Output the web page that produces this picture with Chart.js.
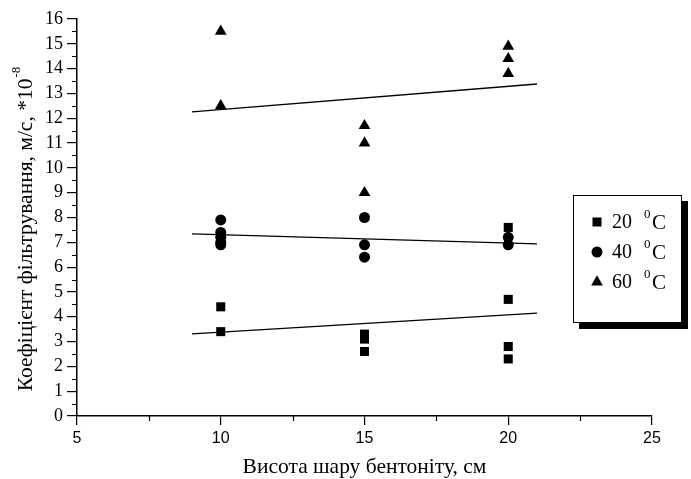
<!DOCTYPE html>
<html>
<head>
<meta charset="utf-8">
<script src="https://cdn.jsdelivr.net/npm/chart.js@4/dist/chart.umd.min.js"></script>
<style>
html,body{margin:0;padding:0;background:#fff;}
#wrap{width:691px;height:479px;position:relative;}
</style>
</head>
<body>
<div id="wrap"><canvas id="c" width="691" height="479"></canvas></div>
<script>
// Data
const heights = [10, 15, 20];
const x20 = [10, 10, 15, 15, 15, 20, 20, 20, 20];
const y20 = [4.4, 3.4, 3.3, 3.1, 2.6, 7.6, 4.7, 2.8, 2.3];
const x40 = [10, 10, 10, 10, 10, 15, 15, 15, 20, 20];
const y40 = [7.9, 7.4, 7.2, 7.0, 6.9, 8.0, 6.9, 6.4, 7.2, 6.9];
const x60 = [10, 10, 15, 15, 15, 20, 20, 20];
const y60 = [15.5, 12.5, 11.7, 11.0, 9.0, 14.9, 14.4, 13.8];
const fitX = [9, 21];
const fit20 = [3.31, 4.15];
const fit40 = [7.34, 6.94];
const fit60 = [12.26, 13.38];
const seriesLabels = ['20', '40', '60'];
const xTitle = 'Висота шару бентоніту, см';
const yTitle = 'Коефіцієнт фільтрування, м/с, *10';
const ySup = '-8';

const pts = (xs, ys) => xs.map((x, i) => ({x: x, y: ys[i]}));

const serif = "'Liberation Serif', 'Times New Roman', serif";
const sans = "'Liberation Sans', Arial, sans-serif";

const titlesPlugin = {
  id: 'titles',
  afterDraw(chart) {
    const ctx = chart.ctx;
    const ca = chart.chartArea;
    ctx.save();
    ctx.fillStyle = '#000';
    // x title
    ctx.font = '21.5px ' + serif;
    ctx.textAlign = 'center';
    ctx.textBaseline = 'middle';
    ctx.fillText(xTitle, (ca.left + ca.right) / 2, 467);
    // y title rotated with superscript
    ctx.translate(25, 229);
    ctx.rotate(-Math.PI / 2);
    ctx.font = '21.5px ' + serif;
    const w1 = ctx.measureText(yTitle).width;
    ctx.font = '13px ' + serif;
    const w2 = ctx.measureText(ySup).width;
    const total = w1 + w2 + 1;
    ctx.textAlign = 'left';
    ctx.textBaseline = 'alphabetic';
    ctx.font = '21.5px ' + serif;
    ctx.fillText(yTitle, -total / 2, 7);
    ctx.font = '13px ' + serif;
    ctx.fillText(ySup, -total / 2 + w1 + 1, -5);
    ctx.restore();
  }
};

// short minor ticks (the major ones are drawn by the library)
const minorTicksPlugin = {
  id: 'minorTicks',
  afterDraw(chart) {
    const ctx = chart.ctx;
    ctx.save();
    ctx.strokeStyle = '#000';
    ctx.lineWidth = 1.2;
    const xs = chart.scales.x, ys = chart.scales.y;
    ctx.beginPath();
    xs.ticks.forEach(t => {
      if (t.value % 5 !== 0) {
        const px = Math.round(xs.getPixelForValue(t.value)) + 0.5;
        ctx.moveTo(px, xs.top);
        ctx.lineTo(px, xs.top + 5);
      }
    });
    ys.ticks.forEach(t => {
      if (!Number.isInteger(t.value)) {
        const py = Math.round(ys.getPixelForValue(t.value)) + 0.5;
        ctx.moveTo(ys.right, py);
        ctx.lineTo(ys.right - 5, py);
      }
    });
    ctx.stroke();
    ctx.restore();
  }
};

function drawMarker(ctx, style, x, y) {
  ctx.beginPath();
  if (style === 'rect') {
    ctx.rect(x - 4.5, y - 4.5, 9, 9);
  } else if (style === 'circle') {
    ctx.arc(x, y, 5.5, 0, Math.PI * 2);
  } else {
    const r = 6.8;
    ctx.moveTo(x, y - r);
    ctx.lineTo(x + r * Math.sin(Math.PI / 3), y + r / 2);
    ctx.lineTo(x - r * Math.sin(Math.PI / 3), y + r / 2);
    ctx.closePath();
  }
  ctx.fill();
}

const legendPlugin = {
  id: 'boxLegend',
  afterDraw(chart) {
    const ctx = chart.ctx;
    const bx = 573, by = 195, bw = 109, bh = 128, sh = 6;
    ctx.save();
    ctx.fillStyle = '#000';
    ctx.fillRect(bx + sh, by + sh, bw, bh);
    ctx.fillStyle = '#fff';
    ctx.fillRect(bx, by, bw, bh);
    ctx.strokeStyle = '#000';
    ctx.lineWidth = 1;
    ctx.strokeRect(bx + 0.5, by + 0.5, bw - 1, bh - 1);
    const styles = ['rect', 'circle', 'triangle'];
    const rows = [222, 252, 282];
    ctx.fillStyle = '#000';
    for (let i = 0; i < 3; i++) {
      drawMarker(ctx, styles[i], 597, rows[i]);
      ctx.textBaseline = 'middle';
      ctx.textAlign = 'left';
      ctx.font = '20px ' + serif;
      ctx.fillText(seriesLabels[i], 612, rows[i] + 1);
      ctx.font = '13px ' + serif;
      ctx.fillText('0', 644, rows[i] - 7);
      ctx.font = '21px ' + serif;
      ctx.fillText('C', 652, rows[i] + 1);
    }
    ctx.restore();
  }
};

const scatterDs = (label, xs, ys, style, r) => ({
  label: label,
  data: pts(xs, ys),
  pointStyle: style,
  pointRadius: r,
  pointHoverRadius: r,
  backgroundColor: '#000',
  borderColor: '#000',
  borderWidth: 0,
  showLine: false
});
const lineDs = (ys) => ({
  data: pts(fitX, ys),
  showLine: true,
  pointRadius: 0,
  borderColor: '#000',
  borderWidth: 1.3,
  backgroundColor: '#000',
  fill: false
});

new Chart(document.getElementById('c'), {
  type: 'scatter',
  data: {
    datasets: [
      lineDs(fit20), lineDs(fit40), lineDs(fit60),
      scatterDs('20 °C', x20, y20, 'rect', 6.4),
      scatterDs('40 °C', x40, y40, 'circle', 5.5),
      scatterDs('60 °C', x60, y60, 'triangle', 6.8)
    ]
  },
  options: {
    responsive: false,
    animation: false,
    layout: {padding: {top: 19, right: 39, left: 0, bottom: 0}},
    plugins: {legend: {display: false}, tooltip: {enabled: false}},
    scales: {
      x: {
        type: 'linear', min: 5, max: 25,
        afterFit(s) { s.height = 63; },
        grid: {display: true, drawOnChartArea: false, drawTicks: true, tickLength: 9, lineWidth: 1.2,
               color: '#000',
               tickColor: c => (c.tick && c.tick.value % 5 === 0 ? '#000' : 'rgba(0,0,0,0)')},
        border: {display: true, color: '#000', width: 1.5},
        ticks: {
          stepSize: 2.5, autoSkip: false, maxRotation: 0, padding: 4, color: '#000',
          font: {family: sans, size: 16},
          callback: v => (v % 5 === 0 ? String(v) : '')
        }
      },
      y: {
        type: 'linear', min: 0, max: 16,
        afterFit(s) { s.width = 77; },
        grid: {display: true, drawOnChartArea: false, drawTicks: true, tickLength: 10, lineWidth: 1.2,
               color: '#000',
               tickColor: c => (c.tick && Number.isInteger(c.tick.value) ? '#000' : 'rgba(0,0,0,0)')},
        border: {display: true, color: '#000', width: 1.5},
        ticks: {
          stepSize: 0.5, autoSkip: false, padding: 4, color: '#000',
          font: {family: serif, size: 18},
          callback: v => (Number.isInteger(v) ? String(v) : '')
        }
      }
    }
  },
  plugins: [titlesPlugin, minorTicksPlugin, legendPlugin]
});
</script>
</body>
</html>
